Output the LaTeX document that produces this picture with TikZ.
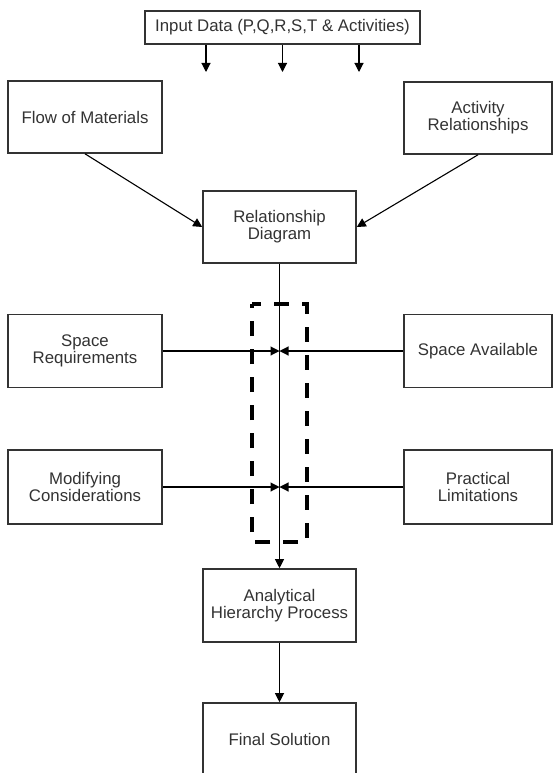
\documentclass[tikz,border=0pt]{standalone}
\usepackage{fontspec}
\setmainfont{Liberation Sans}
\usetikzlibrary{arrows.meta}
\begin{document}
\begin{tikzpicture}[x=1pt,y=-1pt,
  box/.style={draw=black!80, line width=1.6pt, fill=white, align=center,
    text=black!80, font=\fontsize{16.8}{17}\selectfont, inner sep=0pt},
  link/.style={draw=black, line width=1.1pt, -{Triangle[length=9pt,width=9pt]}},
  guard/.style={draw=black, line width=3.5pt, dash pattern=on 15pt off 13pt, dash phase=6pt}]
\useasboundingbox (0,0) rectangle (554,773);
\clip (0,0) rectangle (554,773);

% boxes
\node[box, minimum width=275pt, minimum height=33pt] (input) at (282.5,27.5)
  {Input Data (P,Q,R,S,T \& Activities)};
\node[box, minimum width=154pt, minimum height=72pt] (flow) at (85,117) {Flow of Materials};
\node[box, minimum width=148pt, minimum height=72pt] (act) at (478,118) {Activity\\Relationships};
\node[box, minimum width=153pt, minimum height=72pt] (rd) at (279.5,227) {Relationship\\Diagram};
\node[box, minimum width=154pt, minimum height=73pt] (sr) at (85,351) {Space\\Requirements};
\node[box, minimum width=148pt, minimum height=73pt] (sa) at (478,351) {Space Available};
\node[box, minimum width=154pt, minimum height=74pt] (mc) at (85,487) {Modifying\\Considerations};
\node[box, minimum width=148pt, minimum height=74pt] (pl) at (478,487) {Practical\\Limitations};
\node[box, minimum width=153pt, minimum height=73pt] (ahp) at (279.5,605.5) {Analytical\\Hierarchy Process};
\node[box, minimum width=153pt, minimum height=72pt] (fs) at (279.5,739) {Final Solution};

% input data feeds
\coordinate (in1) at (206,72);
\coordinate (in2) at (282.5,72);
\coordinate (in3) at (359,72);
\foreach \c in {in1,in2,in3}
  \draw[link] (\c |- input.south) -- (\c);

% connectors
\draw[link] (flow.south) -- (rd.west);
\draw[link] (act.south) -- (rd.east);
\draw[link] (rd.south) -- (ahp.north);
\draw[link] (sr.east) -- (sr.east -| rd.south);
\draw[link] (sa.west) -- (sa.west -| rd.south);
\draw[link] (mc.east) -- (mc.east -| rd.south);
\draw[link] (pl.west) -- (pl.west -| rd.south);
\draw[link] (ahp.south) -- (fs.north);

% dashed grouping frame
\draw[guard] (252,304) -- (307,304) -- (307,542) -- (252,542) -- cycle;
\end{tikzpicture}
\end{document}
